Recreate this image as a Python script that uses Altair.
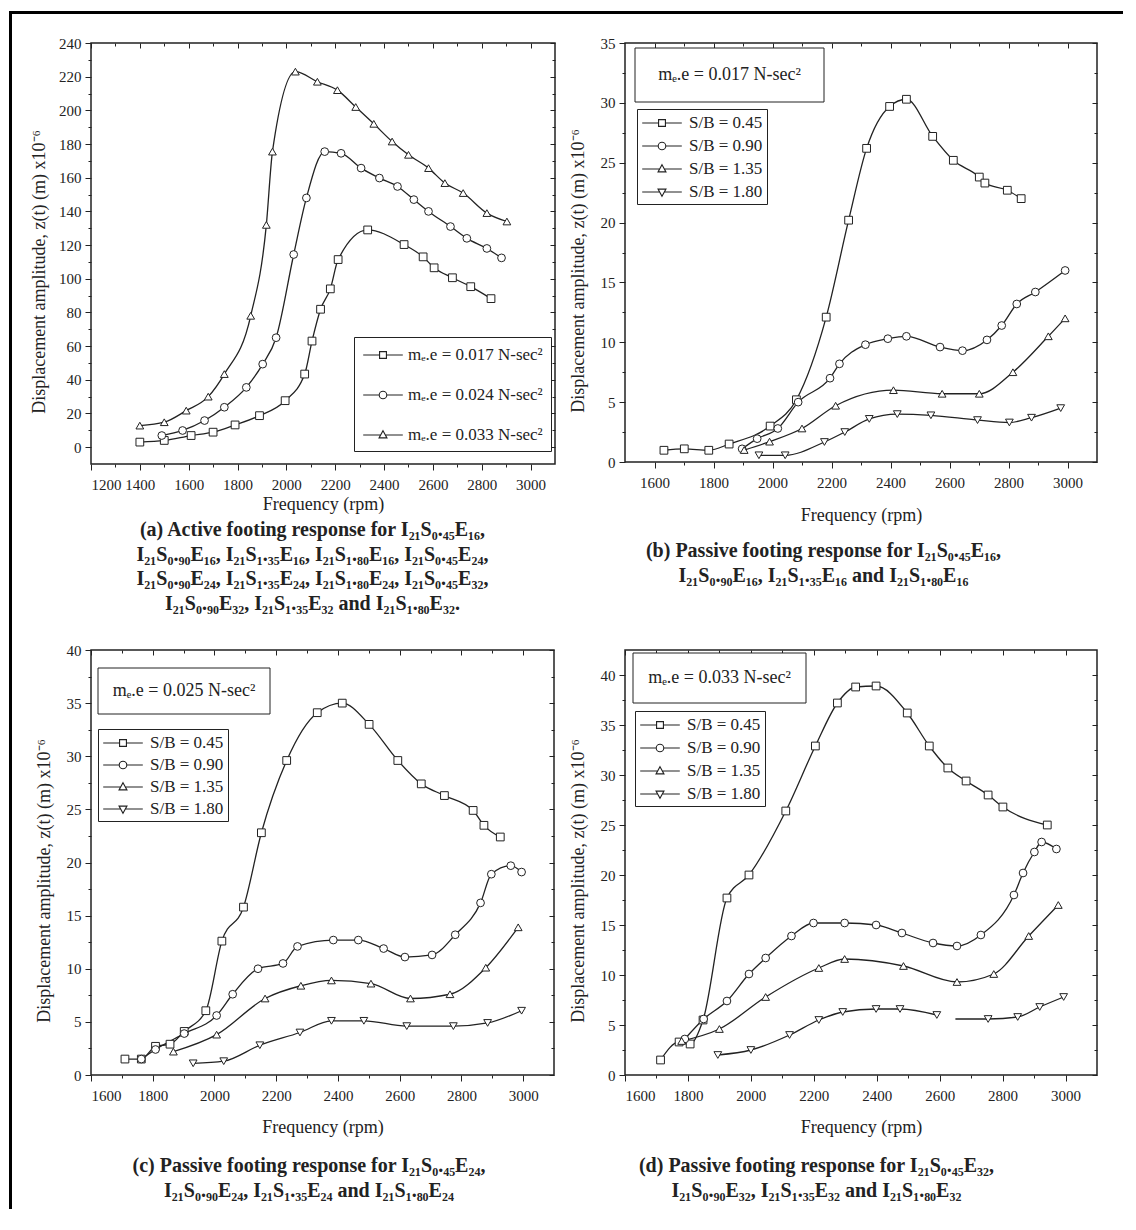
import altair as alt
import pandas as pd

FONT = "Liberation Serif"
INK = "#222222"

# ---------------- data ----------------
A_SERIES = ["mₑ.e = 0.017 N-sec²", "mₑ.e = 0.024 N-sec²", "mₑ.e = 0.033 N-sec²"]
A_017_RPM = [1400, 1500, 1610, 1700, 1790, 1890, 1995, 2075, 2105, 2140, 2180, 2212, 2333, 2482, 2560, 2605, 2680, 2755, 2838]
A_017_AMP = [3, 4, 6.9, 8.9, 13.2, 18.7, 27.6, 43.4, 63, 81.9, 94, 111.4, 129, 120.3, 113, 106.5, 100.6, 95.3, 88.2]
A_024_RPM = [1490, 1575, 1665, 1746, 1836, 1903, 1958, 2030, 2082, 2157, 2224, 2306, 2381, 2455, 2522, 2582, 2672, 2739, 2821, 2881]
A_024_AMP = [6.9, 9.9, 15.8, 23.7, 35.5, 49.3, 65, 114.4, 148, 175.5, 174.5, 165.7, 159.8, 154.8, 147, 140, 131, 124, 118, 112.4]
A_033_RPM = [1400, 1500, 1590, 1680, 1746, 1854, 1918, 1943, 2037, 2127, 2209, 2284, 2358, 2433, 2500, 2582, 2649, 2724, 2821, 2903]
A_033_AMP = [12.8, 14.8, 21.7, 30, 43.4, 78, 132, 175.5, 223, 217, 212, 202, 192, 181.5, 173.6, 165.7, 156.8, 150.9, 139, 134]

SB_SERIES = ["S/B = 0.45", "S/B = 0.90", "S/B = 1.35", "S/B = 1.80"]

B_045_RPM = [1632, 1701, 1784, 1853, 1992, 2081, 2182, 2258, 2319, 2397, 2454, 2543, 2613, 2701, 2720, 2796, 2843]
B_045_AMP = [0.98, 1.1, 0.98, 1.5, 3.0, 5.2, 12.1, 20.2, 26.2, 29.7, 30.3, 27.2, 25.2, 23.8, 23.3, 22.7, 22.0]
B_090_RPM = [1897, 1948, 2018, 2087, 2195, 2227, 2315, 2391, 2454, 2568, 2644, 2727, 2777, 2828, 2891, 2992]
B_090_AMP = [1.1, 1.95, 2.8, 5.0, 7.0, 8.2, 9.8, 10.3, 10.5, 9.6, 9.3, 10.2, 11.4, 13.2, 14.2, 16.0]
B_135_RPM = [1904, 1990, 2100, 2214, 2410, 2575, 2701, 2815, 2935, 2992]
B_135_AMP = [1.0, 1.7, 2.8, 4.7, 6.0, 5.7, 5.7, 7.5, 10.5, 12.0]
B_180_RPM = [1954, 2043, 2176, 2245, 2328, 2423, 2537, 2695, 2803, 2878, 2977]
B_180_AMP = [0.56, 0.56, 1.67, 2.5, 3.6, 4.0, 3.9, 3.5, 3.3, 3.7, 4.5]

C_045_RPM = [1710, 1763, 1809, 1856, 1902, 1972, 2024, 2094, 2152, 2234, 2333, 2414, 2501, 2594, 2670, 2745, 2838, 2873, 2926]
C_045_AMP = [1.5, 1.5, 2.7, 2.9, 4.1, 6.05, 12.6, 15.8, 22.8, 29.6, 34.1, 35.0, 33.0, 29.6, 27.4, 26.3, 24.9, 23.5, 22.4]
C_090_RPM = [1763, 1809, 1902, 2007, 2059, 2141, 2222, 2269, 2385, 2466, 2548, 2617, 2705, 2780, 2862, 2897, 2960, 2995]
C_090_AMP = [1.5, 2.4, 3.9, 5.6, 7.6, 10.0, 10.5, 12.1, 12.7, 12.7, 11.9, 11.1, 11.3, 13.2, 16.2, 18.9, 19.7, 19.1]
C_135_RPM = [1867, 2007, 2164, 2280, 2379, 2507, 2635, 2763, 2879, 2984]
C_135_AMP = [2.2, 3.8, 7.2, 8.4, 8.9, 8.6, 7.2, 7.6, 10.1, 13.9]
C_180_RPM = [1931, 2030, 2147, 2277, 2379, 2484, 2623, 2774, 2885, 2995]
C_180_AMP = [1.1, 1.3, 2.8, 4.0, 5.1, 5.1, 4.6, 4.6, 4.9, 6.05]

D_045_RPM = [1713, 1772, 1807, 1848, 1924, 1994, 2111, 2205, 2275, 2333, 2398, 2497, 2567, 2626, 2684, 2754, 2801, 2942]
D_045_AMP = [1.5, 3.3, 3.1, 5.5, 17.7, 20.0, 26.4, 32.9, 37.2, 38.8, 38.9, 36.2, 32.9, 30.7, 29.4, 28.0, 26.8, 25.0]
D_090_RPM = [1790, 1850, 1924, 1994, 2047, 2129, 2199, 2298, 2398, 2480, 2579, 2655, 2731, 2836, 2865, 2901, 2924, 2971]
D_090_AMP = [3.6, 5.6, 7.4, 10.1, 11.7, 13.9, 15.2, 15.2, 15.0, 14.2, 13.2, 12.9, 14.0, 18.0, 20.2, 22.3, 23.3, 22.6]
D_135_RPM = [1780, 1900, 2047, 2216, 2298, 2485, 2655, 2772, 2883, 2977]
D_135_AMP = [3.4, 4.6, 7.8, 10.7, 11.6, 10.9, 9.3, 10.1, 13.9, 17.0]
D_180_RPM = [1895, 2000, 2123, 2216, 2292, 2398, 2474, 2591, 2650, 2754, 2848, 2918, 2994]
D_180_AMP = [2.0, 2.5, 4.0, 5.5, 6.3, 6.6, 6.6, 6.0, 5.6, 5.6, 5.8, 6.8, 7.8]
D_180_MARK = [1, 1, 1, 1, 1, 1, 1, 1, 0, 1, 1, 1, 1]
D_180_SEG = [0, 0, 0, 0, 0, 0, 0, 0, 1, 1, 1, 1, 1]

NOTE_B = "mₑ.e = 0.017 N-sec²"
NOTE_C = "mₑ.e = 0.025 N-sec²"
NOTE_D = "mₑ.e = 0.033 N-sec²"

CAPTION_A = [
    "(a) Active footing response for I₂₁S₀.₄₅E₁₆,",
    "I₂₁S₀.₉₀E₁₆, I₂₁S₁.₃₅E₁₆, I₂₁S₁.₈₀E₁₆, I₂₁S₀.₄₅E₂₄,",
    "I₂₁S₀.₉₀E₂₄, I₂₁S₁.₃₅E₂₄, I₂₁S₁.₈₀E₂₄, I₂₁S₀.₄₅E₃₂,",
    "I₂₁S₀.₉₀E₃₂, I₂₁S₁.₃₅E₃₂ and I₂₁S₁.₈₀E₃₂.",
]
CAPTION_B = ["(b) Passive footing response for I₂₁S₀.₄₅E₁₆,", "I₂₁S₀.₉₀E₁₆, I₂₁S₁.₃₅E₁₆ and I₂₁S₁.₈₀E₁₆"]
CAPTION_C = ["(c) Passive footing response for I₂₁S₀.₄₅E₂₄,", "I₂₁S₀.₉₀E₂₄, I₂₁S₁.₃₅E₂₄ and I₂₁S₁.₈₀E₂₄"]
CAPTION_D = ["(d) Passive footing response for I₂₁S₀.₄₅E₃₂,", "I₂₁S₀.₉₀E₃₂, I₂₁S₁.₃₅E₃₂ and I₂₁S₁.₈₀E₃₂"]

Y_TITLE = "Displacement amplitude, z(t) (m) x10⁻⁶"
X_TITLE = "Frequency (rpm)"

X_TICKS_A = [1200, 1400, 1600, 1800, 2000, 2200, 2400, 2600, 2800, 3000]
X_TICKS_P = [1600, 1800, 2000, 2200, 2400, 2600, 2800, 3000]
Y_TICKS_A = [0, 20, 40, 60, 80, 100, 120, 140, 160, 180, 200, 220, 240]
Y_TICKS_B = [0, 5, 10, 15, 20, 25, 30, 35]
Y_TICKS_C = [0, 5, 10, 15, 20, 25, 30, 35, 40]
Y_TICKS_D = [0, 5, 10, 15, 20, 25, 30, 35, 40]

SHAPES = ["square", "circle", "triangle-up", "triangle-down"]
LEG_PATHS = [
    "M-2.2,0H-0.38M0.38,0H2.2M-0.38,-0.38H0.38V0.38H-0.38Z",
    "M-2.2,0H-0.42M0.42,0H2.2M-0.42,0A0.42,0.42,0,1,0,0.42,0A0.42,0.42,0,1,0,-0.42,0Z",
    "M-2.2,0H-0.27M0.27,0H2.2M0,-0.48L0.44,0.32L-0.44,0.32Z",
    "M-2.2,0H-0.27M0.27,0H2.2M0,0.48L0.44,-0.32L-0.44,-0.32Z",
]


def table(series, rpms, amps, marks=None, segs=None):
    rows = []
    for k, name in enumerate(series):
        mk = marks[k] if marks and marks[k] else [1] * len(rpms[k])
        sg = segs[k] if segs and segs[k] else [0] * len(rpms[k])
        for r, a, m, s in zip(rpms[k], amps[k], mk, sg):
            rows.append({"rpm": r, "amp": a, "series": name, "marker": name, "mk": m, "seg": f"{k}-{s}"})
    return pd.DataFrame(rows)


DF_A = table(A_SERIES, [A_017_RPM, A_024_RPM, A_033_RPM], [A_017_AMP, A_024_AMP, A_033_AMP])
DF_B = table(SB_SERIES, [B_045_RPM, B_090_RPM, B_135_RPM, B_180_RPM], [B_045_AMP, B_090_AMP, B_135_AMP, B_180_AMP])
DF_C = table(SB_SERIES, [C_045_RPM, C_090_RPM, C_135_RPM, C_180_RPM], [C_045_AMP, C_090_AMP, C_135_AMP, C_180_AMP])
DF_D = table(SB_SERIES, [D_045_RPM, D_090_RPM, D_135_RPM, D_180_RPM], [D_045_AMP, D_090_AMP, D_135_AMP, D_180_AMP],
             marks=[None, None, None, D_180_MARK], segs=[None, None, None, D_180_SEG])


def sym_expr(n):
    arr = ",".join("'" + p + "'" for p in LEG_PATHS[:n])
    return "[" + arr + "][datum.index]"


def panel(df, series, xdom, ydom, xt, yt, w, h, lay, caption, note=None, frame=False):
    n = len(series)
    xs = alt.Scale(domain=xdom, nice=False, zero=False)
    ys = alt.Scale(domain=ydom, nice=False, zero=False)
    xstep = xt[1] - xt[0]
    ystep = yt[1] - yt[0]
    xminor = [v + xstep / 2 for v in xt if v + xstep / 2 < xdom[1]]
    yminor = [v + ystep / 2 for v in yt if v + ystep / 2 < ydom[1]]
    g = dict(grid=False, domain=False, tickColor=INK, tickWidth=1)
    ax_x = alt.Axis(orient="bottom", values=xt, format="d", tickSize=6, labelPadding=7, labelFontSize=15,
                    title=X_TITLE, titleFontSize=18, titleFontWeight="normal", titlePadding=lay["xt_pad"], **g)
    ax_y = alt.Axis(orient="left", values=yt, format="d", tickSize=6, labelPadding=4, labelFontSize=15,
                    title=Y_TITLE, titleFontSize=18, titleFontWeight="normal", titlePadding=lay["yt_pad"],
                    titleY=h / 2 + 18, **g)
    ax_xm = alt.Axis(orient="bottom", values=xminor, tickSize=3, labels=False, title=caption, titleFontSize=20,
                     titleFontWeight="bold", titleLineHeight=24.5, titlePadding=lay["cap_pad"],
                     titleX=w / 2 + lay["cap_dx"], **g)
    ax_ym = alt.Axis(orient="left", values=yminor, tickSize=3, labels=False, title=None, **g)
    ax_xt = alt.Axis(orient="top", values=xt, tickSize=5, offset=-5, labels=False, title=None, **g)
    ax_yr = alt.Axis(orient="right", values=yt, tickSize=5, offset=-5, labels=False, title=None, **g)
    ax_xtm = alt.Axis(orient="top", values=xminor, tickSize=3, offset=-3, labels=False, title=None, **g)
    ax_yrm = alt.Axis(orient="right", values=yminor, tickSize=3, offset=-3, labels=False, title=None, **g)

    leg = alt.Legend(title=None, orient="none", legendX=lay["leg_x"], legendY=lay["leg_y"],
                     symbolType=alt.ExprRef(expr=sym_expr(n)), symbolSize=324, symbolFillColor="white",
                     symbolStrokeWidth=1.1, symbolOffset=11, labelOffset=lay["leg_lo"], labelFont=FONT,
                     labelFontSize=lay["leg_fs"], labelColor=INK, labelLimit=400, rowPadding=lay["leg_rp"],
                     padding=lay["leg_pad"], strokeColor=INK, fillColor="white")

    base = alt.Chart(df)
    lines = base.mark_line(interpolate="monotone", strokeWidth=1.3).encode(
        x=alt.X("rpm:Q", scale=xs, axis=ax_x),
        y=alt.Y("amp:Q", scale=ys, axis=ax_y),
        stroke=alt.Stroke("series:N", scale=alt.Scale(domain=series, range=[INK] * n), legend=leg),
        detail="seg:N",
    )
    # marker shapes follow the (alphabetical) data order of the series names
    pts = base.transform_filter("datum.mk == 1").mark_point(
        filled=True, fill="white", stroke=INK, strokeWidth=1, size=60, opacity=1
    ).encode(
        x=alt.X("rpm:Q", scale=xs, axis=ax_xm),
        y=alt.Y("amp:Q", scale=ys, axis=ax_ym),
        shape=alt.Shape("marker:N", scale=alt.Scale(range=SHAPES[:n]), legend=None),
    )
    mirror1 = base.mark_point(opacity=0).encode(
        x=alt.X("rpm:Q", scale=xs, axis=ax_xt), y=alt.Y("amp:Q", scale=ys, axis=ax_yr))
    mirror2 = base.mark_point(opacity=0).encode(
        x=alt.X("rpm:Q", scale=xs, axis=ax_xtm), y=alt.Y("amp:Q", scale=ys, axis=ax_yrm))
    layers = [lines, pts, mirror1, mirror2]

    if note is not None:
        x0, y0, x1, y1 = lay["note_box"]
        nd = pd.DataFrame({"note": [note]})
        box = alt.Chart(nd).mark_rect(fill="white", stroke=INK, strokeWidth=1).encode(
            x=alt.value(x0), x2=alt.value(x1), y=alt.value(y0), y2=alt.value(y1))
        txt = alt.Chart(nd).mark_text(font=FONT, fontSize=18, color=INK, align="center", baseline="middle").encode(
            x=alt.value((x0 + x1) / 2), y=alt.value((y0 + y1) / 2), text="note:N")
        layers += [box, txt]

    if frame:
        fd = pd.DataFrame({"k": [0]})
        top = alt.Chart(fd).mark_rule(color="black", strokeWidth=3).encode(
            x=alt.value(-80.5), x2=alt.value(1032), y=alt.value(-30.5))
        left = alt.Chart(fd).mark_rule(color="black", strokeWidth=3).encode(
            x=alt.value(-80.5), y=alt.value(-32), y2=alt.value(1166))
        layers += [top, left]

    return alt.layer(*layers).resolve_axis(x="independent", y="independent").properties(width=w, height=h)


LAY_A = dict(leg_x=263, leg_y=294, leg_rp=22, leg_pad=8, leg_fs=17, leg_lo=15,
             xt_pad=3, yt_pad=10, cap_pad=52, cap_dx=-11)
LAY_B = dict(leg_x=12, leg_y=66, leg_rp=5, leg_pad=4, leg_fs=17, leg_lo=17,
             xt_pad=16, yt_pad=13, cap_pad=75, cap_dx=-38, note_box=(10, 5, 199, 59))
LAY_C = dict(leg_x=7, leg_y=79, leg_rp=4, leg_pad=4, leg_fs=17, leg_lo=17,
             xt_pad=15, yt_pad=13, cap_pad=77, cap_dx=-14, note_box=(7, 18, 179, 64))
LAY_D = dict(leg_x=10, leg_y=61, leg_rp=5, leg_pad=4, leg_fs=17, leg_lo=17,
             xt_pad=15, yt_pad=13, cap_pad=77, cap_dx=-45, note_box=(8, 3, 181, 53))

pa = panel(DF_A, A_SERIES, [1200, 3100], [-10, 240], X_TICKS_A, Y_TICKS_A, 464, 421, LAY_A, CAPTION_A, frame=True)
pb = panel(DF_B, SB_SERIES, [1500, 3100], [0, 35], X_TICKS_P, Y_TICKS_B, 472, 419, LAY_B, CAPTION_B, note=NOTE_B)
pc = panel(DF_C, SB_SERIES, [1600, 3100], [0, 40], X_TICKS_P, Y_TICKS_C, 463, 425, LAY_C, CAPTION_C, note=NOTE_C)
pdd = panel(DF_D, SB_SERIES, [1600, 3100], [0, 42.5], X_TICKS_P, Y_TICKS_D, 472, 425, LAY_D, CAPTION_D, note=NOTE_D)

chart = alt.concat(pa, pb, pc, pdd, columns=2, spacing={"row": 186, "column": 70}, bounds="flush")
chart = chart.resolve_scale(x="independent", y="independent", stroke="independent", shape="independent")
chart = chart.resolve_legend(stroke="independent", shape="independent")
chart = chart.properties(padding=0, background="white")
chart = chart.configure_view(stroke=INK, strokeWidth=1.5).configure_axis(
    labelFont=FONT, titleFont=FONT, labelColor=INK, titleColor=INK)

chart.save("out.html", embed_options={"renderer": "svg", "actions": False})
